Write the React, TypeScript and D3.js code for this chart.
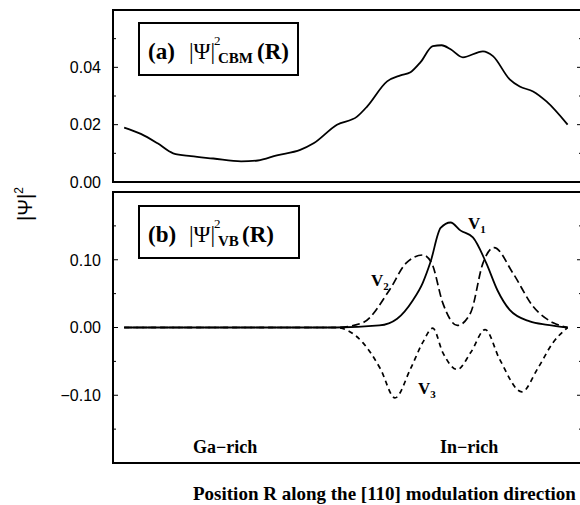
import React from "react";
import * as d3 from "d3";

// panel (a): conduction band minimum
const cbmPos = [0, 1.5, 3, 4.4, 6, 8, 10.5, 12, 13.7, 15.8, 17, 19.1, 20.9, 21.8, 23.6, 24.8, 25.7, 26.6, 27.7, 28.5, 29.3, 30.4, 32.2, 33.1, 34.6, 35.5, 36.7, 37.9, 39.8];
const cbmVal = [0.019, 0.0168, 0.0135, 0.01, 0.009, 0.0082, 0.0072, 0.0075, 0.0093, 0.0112, 0.0135, 0.02, 0.0228, 0.0263, 0.0351, 0.0372, 0.0383, 0.0418, 0.0474, 0.0477, 0.0463, 0.0435, 0.0456, 0.0439, 0.0358, 0.0333, 0.0316, 0.0281, 0.02];

// panel (b): valence band states
const v1Pos = [0, 10, 19, 22.9, 24.5, 25.9, 26.8, 27.5, 28.4, 29.3, 30.2, 31.3, 32.5, 33.5, 34.6, 36.4, 38, 39.8];
const v1Val = [0, 0, 0, 0.003, 0.013, 0.04, 0.066, 0.097, 0.147, 0.155, 0.143, 0.133, 0.095, 0.055, 0.026, 0.009, 0.004, 0];
const v2Pos = [0, 10, 19, 21.4, 23.8, 25.3, 26.8, 27.6, 28.6, 29.9, 31.1, 32.2, 33.2, 34.9, 36.7, 38.5, 39.8];
const v2Val = [0, 0, 0, 0.007, 0.055, 0.095, 0.107, 0.095, 0.036, 0.003, 0.022, 0.095, 0.118, 0.08, 0.031, 0.007, 0];
const v3Pos = [0, 10, 19, 21.4, 23, 24.3, 25.7, 26.8, 27.7, 28.6, 29.9, 31.1, 32.4, 33.7, 35.7, 37.1, 38.5, 39.8];
const v3Val = [0, 0, 0, -0.022, -0.061, -0.104, -0.061, -0.022, -0.001, -0.037, -0.062, -0.037, -0.003, -0.047, -0.095, -0.061, -0.022, 0];

const ticksA = [0, 0.02, 0.04];
const minorA = [0.01, 0.03, 0.05];
const ticksB = [-0.1, 0, 0.1];
const minorB = [-0.15, -0.05, 0.05, 0.15];

const fmt = (v: number) => (v < 0 ? "\u2212" : "") + Math.abs(v).toFixed(2);

const serif = "'Liberation Serif', 'Times New Roman', serif";
const sans = "'Liberation Sans', Arial, sans-serif";

export default function App() {
  const left = 113;
  const right = 582;
  const x = d3.scaleLinear().domain([-1, 41]).range([left, 581]);
  const yA = d3.scaleLinear().domain([0, 0.06]).range([182, 10]);
  const yB = d3.scaleLinear().domain([-0.2, 0.2]).range([463, 192]);

  const mk = (y: d3.ScaleLinear<number, number>, pos: number[], val: number[]) =>
    d3
      .line<number>()
      .x((d, i) => x(pos[i]))
      .y((d) => y(d))
      .curve(d3.curveMonotoneX)(val) || "";

  const ticks = (y: d3.ScaleLinear<number, number>, major: number[], minor: number[]) => (
    <g stroke="#000" strokeWidth={1}>
      {major.map((t) => (
        <g key={"M" + t}>
          <line x1={left} x2={left + 5} y1={y(t)} y2={y(t)} />
          <line x1={right} x2={right - 5} y1={y(t)} y2={y(t)} />
        </g>
      ))}
      {minor.map((t) => (
        <g key={"m" + t}>
          <line x1={left} x2={left + 3} y1={y(t)} y2={y(t)} />
          <line x1={right} x2={right - 3} y1={y(t)} y2={y(t)} />
        </g>
      ))}
    </g>
  );

  const labels = (y: d3.ScaleLinear<number, number>, major: number[]) =>
    major.map((t) => (
      <text key={t} x={101} y={y(t)} dy="0.36em" textAnchor="end" fontFamily={sans} fontSize={16}>
        {fmt(t)}
      </text>
    ));

  const boxLabel = (ty: number, tag: string, sub: string) => (
    <g fontFamily={serif} fontSize={23}>
      <text x={148} y={ty} fontWeight="bold">{tag}</text>
      <text x={189} y={ty}>|Ψ|</text>
      <text x={214} y={ty - 14} fontSize={13}>2</text>
      <text x={218} y={ty + 4} fontSize={15} fontWeight="bold">{sub}</text>
      <text x={sub.length > 2 ? 257 : 242} y={ty} fontWeight="bold">(R)</text>
    </g>
  );

  return (
    <svg width={580} height={505} style={{ position: "absolute", left: 0, top: 0, background: "#fff" }}>
      {/* panel (a) */}
      <rect x={left} y={10} width={right - left} height={172} fill="none" stroke="#000" strokeWidth={2} />
      {ticks(yA, ticksA, minorA)}
      {labels(yA, ticksA)}
      <path d={mk(yA, cbmPos, cbmVal)} fill="none" stroke="#000" strokeWidth={1.8} />
      <rect x={139} y={23} width={159} height={52} fill="#fff" stroke="#000" strokeWidth={2} />
      {boxLabel(59, "(a)", "CBM")}

      {/* panel (b) */}
      <rect x={left} y={192} width={right - left} height={271} fill="none" stroke="#000" strokeWidth={2} />
      {ticks(yB, ticksB, minorB)}
      {labels(yB, ticksB)}
      <path d={mk(yB, v3Pos, v3Val)} fill="none" stroke="#000" strokeWidth={1.7} strokeDasharray="5,4" />
      <path d={mk(yB, v2Pos, v2Val)} fill="none" stroke="#000" strokeWidth={1.7} strokeDasharray="8,4" />
      <path d={mk(yB, v1Pos, v1Val)} fill="none" stroke="#000" strokeWidth={1.8} />
      <rect x={139} y={206} width={160} height={52} fill="#fff" stroke="#000" strokeWidth={2} />
      {boxLabel(242, "(b)", "VB")}

      <g fontFamily={serif} fontWeight="bold" fontSize={17}>
        <text x={468} y={229}>
          V<tspan fontSize={11} dy={4}>1</tspan>
        </text>
        <text x={371} y={286}>
          V<tspan fontSize={11} dy={4}>2</tspan>
        </text>
        <text x={418} y={394}>
          V<tspan fontSize={11} dy={4}>3</tspan>
        </text>
      </g>

      <g fontFamily={serif} fontWeight="bold" fontSize={18}>
        <text x={193} y={453}>Ga−rich</text>
        <text x={440} y={453}>In−rich</text>
      </g>

      <text x={193} y={500} fontFamily={serif} fontWeight="bold" fontSize={19}>
        Position R along the [110] modulation direction
      </text>

      <text transform="translate(32,204) rotate(-90)" textAnchor="middle" fontFamily={sans} fontSize={20}>
        |Ψ|<tspan fontSize={12} dy={-9}>2</tspan>
      </text>
    </svg>
  );
}
